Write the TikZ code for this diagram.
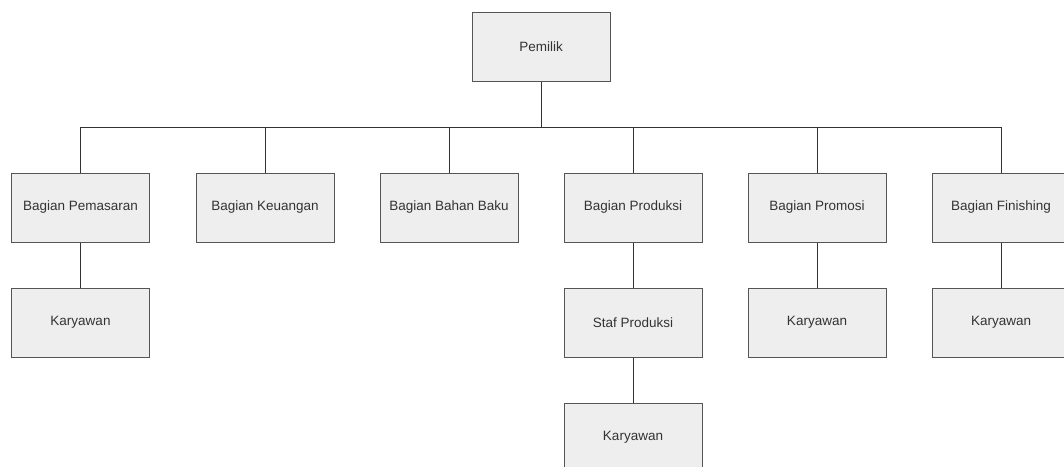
\documentclass[tikz,border=0pt]{standalone}
\usepackage{fontspec}
\setmainfont{Liberation Sans}
\definecolor{boxfill}{HTML}{EEEEEE}
\definecolor{boxline}{HTML}{555555}
\definecolor{txt}{HTML}{333333}
\definecolor{conn}{HTML}{333333}
\begin{document}
\begin{tikzpicture}[x=1pt,y=-1pt,
  orgbox/.style={draw=boxline,fill=boxfill,line width=1pt,minimum width=138pt,minimum height=69pt,inner sep=0pt,text=txt,font=\fontsize{13.5}{16}\selectfont},
  link/.style={draw=conn,line width=1pt}]
\useasboundingbox (0,0) rectangle (1064,466);
\clip (0,0) rectangle (1064,466);
\node[orgbox] (pemilik) at (541,46.5) {Pemilik};
\node[orgbox] (pemasaran) at (80.5,207.5) {Bagian Pemasaran};
\node[orgbox] (keuangan) at (265,207.5) {Bagian Keuangan};
\node[orgbox] (bahan) at (449,207.5) {Bagian Bahan Baku};
\node[orgbox] (produksi) at (633,207.5) {Bagian Produksi};
\node[orgbox] (promosi) at (817,207.5) {Bagian Promosi};
\node[orgbox] (finishing) at (1001,207.5) {Bagian Finishing};
\node[orgbox] (kar1) at (80.5,322.5) {Karyawan};
\node[orgbox] (staf) at (633,322.5) {Staf Produksi};
\node[orgbox] (kar2) at (817,322.5) {Karyawan};
\node[orgbox] (kar3) at (1001,322.5) {Karyawan};
\node[orgbox] (kar4) at (633,437.5) {Karyawan};
\coordinate (busL) at (80.5,127);
\coordinate (busR) at (1001,127);
\draw[link] (pemilik.south) -- (pemilik.south |- busL);
\draw[link] (busL) -- (busR);
\foreach \n in {pemasaran,keuangan,bahan,produksi,promosi,finishing}{
  \draw[link] (\n.north |- busL) -- (\n.north);
}
\draw[link] (pemasaran) -- (kar1);
\draw[link] (produksi) -- (staf);
\draw[link] (staf) -- (kar4);
\draw[link] (promosi) -- (kar2);
\draw[link] (finishing) -- (kar3);
\end{tikzpicture}
\end{document}
